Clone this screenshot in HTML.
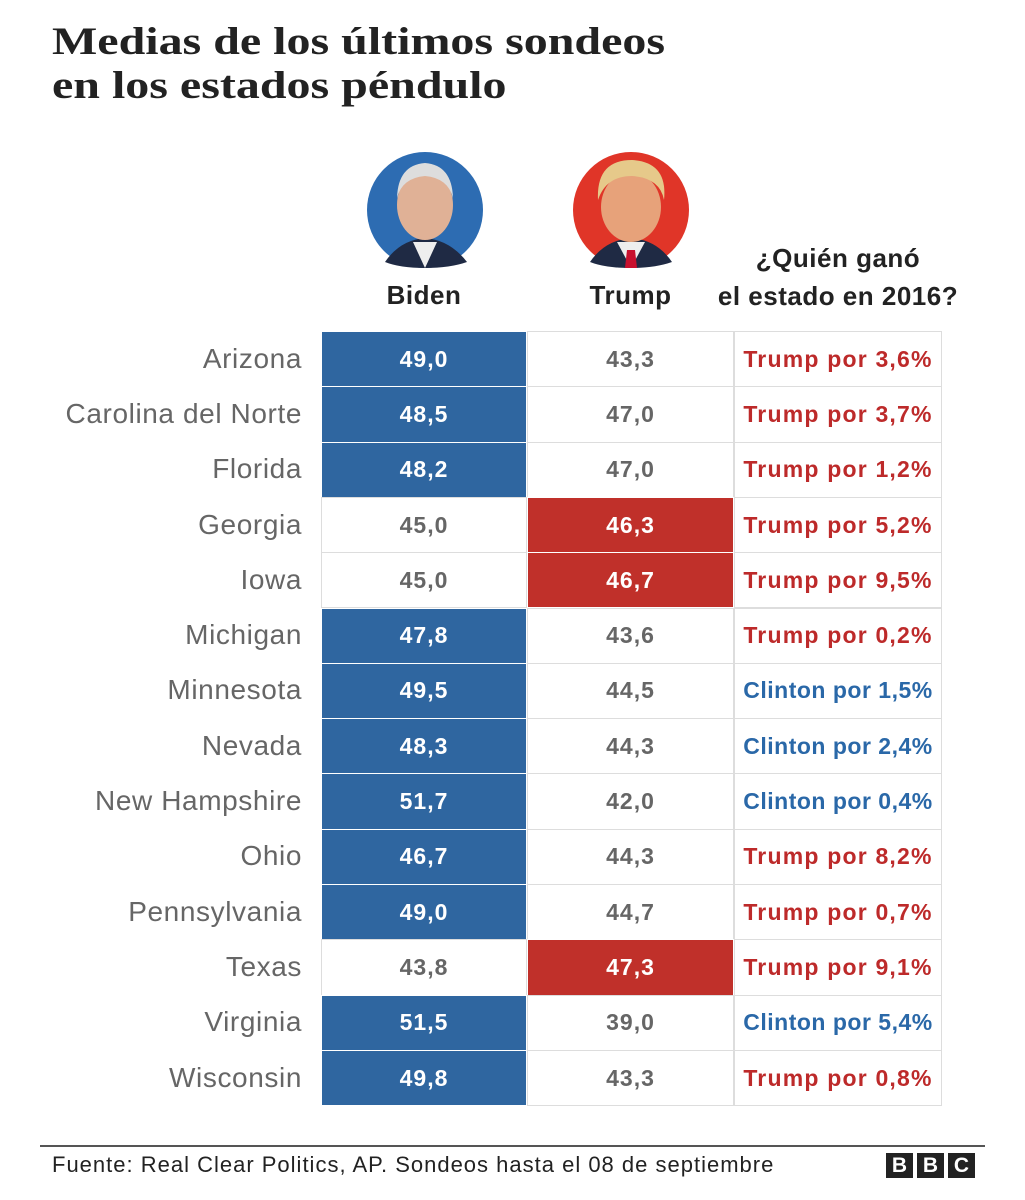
<!DOCTYPE html>
<html><head><meta charset="utf-8"><style>
body{margin:0;width:1025px;height:1200px;background:#fff;font-family:"Liberation Sans","DejaVu Sans",sans-serif;position:relative;overflow:hidden}
.abs{position:absolute}
#title{left:52px;top:20px;font-family:"Liberation Serif","DejaVu Serif",serif;font-weight:bold;font-size:39px;line-height:44px;color:#222;transform:scaleX(1.23);transform-origin:0 0;white-space:nowrap}
.hdr{font-weight:bold;font-size:26px;color:#222;text-align:center;letter-spacing:0.5px;white-space:nowrap}
.cell{position:absolute;box-sizing:border-box;display:flex;align-items:center;justify-content:center;font-weight:bold;font-size:23px;letter-spacing:1px;white-space:nowrap}
.state{position:absolute;right:723px;font-size:28px;letter-spacing:0.6px;color:#666;display:flex;align-items:center;justify-content:flex-end;white-space:nowrap}
</style></head><body>
<div id="title" class="abs">Medias de los últimos sondeos<br>en los estados péndulo</div>
<svg class="abs" style="left:0;top:0" width="1025" height="320">
 <g>
  <circle cx="425" cy="210" r="58" fill="#2d6cb2"/>
  <path d="M385 262 Q400 240 425 238 Q450 240 467 262 Q450 268 425 268 Q400 268 385 262Z" fill="#1f2a44"/>
  <path d="M413 242 L425 268 L437 242Z" fill="#eee"/>
  <ellipse cx="425" cy="205" rx="28" ry="35" fill="#e0b196"/>
  <path d="M397 198 Q398 165 425 163 Q452 165 453 198 Q448 178 425 176 Q402 178 397 198Z" fill="#ddd"/>
 </g>
 <g>
  <circle cx="631" cy="210" r="58" fill="#e03528"/>
  <path d="M590 262 Q605 240 631 238 Q657 240 672 262 Q655 268 631 268 Q605 268 590 262Z" fill="#1f2a44"/>
  <path d="M617 242 L631 268 L645 242Z" fill="#eee"/>
  <path d="M627 250 L635 250 L637 268 L625 268Z" fill="#c8102e"/>
  <ellipse cx="631" cy="207" rx="30" ry="35" fill="#e7a27a"/>
  <path d="M598 200 Q596 160 632 160 Q668 162 664 200 Q660 178 632 176 Q606 176 598 200Z" fill="#e6c98a"/>
 </g>
</svg>
<div class="abs hdr" style="left:321px;top:280px;width:206px">Biden</div>
<div class="abs hdr" style="left:527px;top:280px;width:207px">Trump</div>
<div class="abs hdr" style="left:700px;top:239px;width:276px;line-height:38px">¿Quién ganó<br>el estado en 2016?</div>
<div id="table"></div>
<div class="abs" style="left:40px;top:1145px;width:945px;height:2px;background:#555"></div>
<div class="abs" style="left:52px;top:1152px;font-size:22px;letter-spacing:1px;color:#222;white-space:nowrap">Fuente: Real Clear Politics, AP. Sondeos hasta el 08 de septiembre</div>
<div class="abs" style="left:886px;top:1153px;display:flex;gap:4px">
 <span style="width:27px;height:25px;background:#222;color:#fff;font-weight:bold;font-size:21px;display:flex;align-items:center;justify-content:center">B</span>
 <span style="width:27px;height:25px;background:#222;color:#fff;font-weight:bold;font-size:21px;display:flex;align-items:center;justify-content:center">B</span>
 <span style="width:27px;height:25px;background:#222;color:#fff;font-weight:bold;font-size:21px;display:flex;align-items:center;justify-content:center">C</span>
</div>
<script>
const states=["Arizona","Carolina del Norte","Florida","Georgia","Iowa","Michigan","Minnesota","Nevada","New Hampshire","Ohio","Pennsylvania","Texas","Virginia","Wisconsin"];
const biden=[49.0,48.5,48.2,45.0,45.0,47.8,49.5,48.3,51.7,46.7,49.0,43.8,51.5,49.8];
const trump=[43.3,47.0,47.0,46.3,46.7,43.6,44.5,44.3,42.0,44.3,44.7,47.3,39.0,43.3];
const winner2016=["Trump","Trump","Trump","Trump","Trump","Trump","Clinton","Clinton","Clinton","Trump","Trump","Trump","Clinton","Trump"];
const margin2016=[3.6,3.7,1.2,5.2,9.5,0.2,1.5,2.4,0.4,8.2,0.7,9.1,5.4,0.8];
const T=document.getElementById('table');
const top0=331,rowH=55.3,cols=[321,527,734,942];
const fmt=v=>v.toFixed(1).replace('.',',');
function add(x,y,w,h,txt,bg,color,name){
 const d=document.createElement('div');d.className='cell';
 
 
 d.style.left=x+'px';d.style.top=y+'px';d.style.width=w+'px';d.style.height=h+'px';
 d.style.background=bg;d.style.color=color;d.style.border='1px solid '+(bg=='#fff'?'#ddd':'#fff');
 d.textContent=txt;T.appendChild(d);return d;}
states.forEach((s,i)=>{
 const y=top0+i*rowH;
 const st=document.createElement('div');st.className='state';
 
 
 st.style.top=y+'px';st.style.height=rowH+'px';st.textContent=s;T.appendChild(st);
 const bw=biden[i]>trump[i];
 add(cols[0],y,cols[1]-cols[0],rowH+1,fmt(biden[i]),bw?'#2f66a0':'#fff',bw?'#fff':'#666','biden-cell');
 add(cols[1],y,cols[2]-cols[1],rowH+1,fmt(trump[i]),bw?'#fff':'#c0302a',bw?'#666':'#fff','trump-cell');
 const c=add(cols[2],y,cols[3]-cols[2],rowH+1,winner2016[i]+' por '+fmt(margin2016[i])+'%','#fff',winner2016[i]=='Trump'?'#bd2a2a':'#2a68a8','winner-2016-cell');
 c.style.fontSize='23px';
 c.style.letterSpacing=winner2016[i]=='Trump'?'1.2px':'0.5px';
});
</script>
</body></html>
